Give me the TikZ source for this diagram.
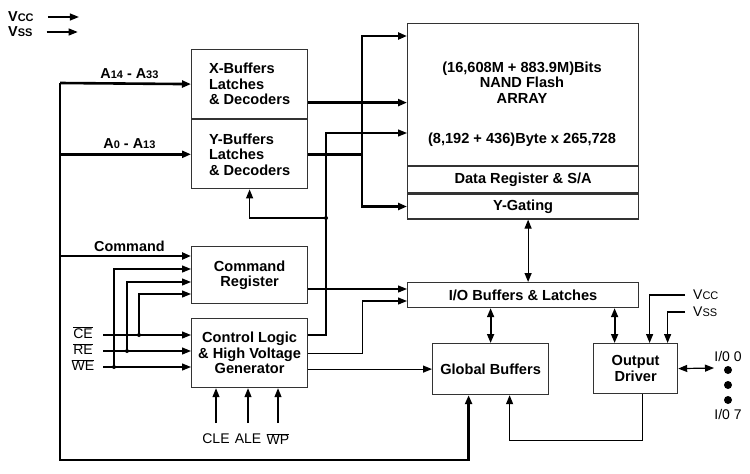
\documentclass[tikz,border=0pt]{standalone}
\usepackage{fontspec}
\setmainfont{Liberation Sans}
\usetikzlibrary{positioning,arrows.meta}

\newcommand{\sm}[1]{{\fontsize{11}{11}\selectfont #1}}
\newcommand{\ovl}[1]{$\overline{\hbox{#1}}$}

\begin{document}
\begin{tikzpicture}[x=1pt, y=-1pt,
  box/.style={draw=black!80, line width=1.2pt, inner sep=0pt, align=center, anchor=north west,
    font=\fontsize{14.6}{15.5}\selectfont\bfseries},
  lbl/.style={font=\fontsize{14}{15}\selectfont, inner sep=0pt},
  blbl/.style={lbl, font=\fontsize{14.4}{15}\selectfont\bfseries},
  bus/.style={line width=2.6pt},
  wire/.style={line width=1.2pt},
  arrow/.style={-{Triangle[length=9pt,width=7pt]}},
  both/.style={{Triangle[length=9pt,width=7pt]}-{Triangle[length=9pt,width=7pt]}},
  dot/.style={circle, fill, inner sep=0pt, minimum size=4pt}]
\useasboundingbox (0,0) rectangle (750,474);

% supply pins, top left
\node[blbl, anchor=west] (vcc) at (8,17) {V\sm{CC}};
\node[blbl, anchor=west] (vss) at (8,32) {V\sm{SS}};
\draw[wire,arrow] ([xshift=14pt]vcc.east) -- ++(31,0);
\draw[wire,arrow] ([xshift=14pt]vss.east) -- ++(31,0);

% blocks
\node[box, minimum width=116pt, minimum height=69pt, align=left] (xbuf) at (191,49) {X-Buffers\\Latches\\\& Decoders};
\node[box, minimum width=116pt, minimum height=69pt, align=left, below=0pt of xbuf] (ybuf) {Y-Buffers\\Latches\\\& Decoders};
\node[box, minimum width=231pt, minimum height=142pt] (arr) at (407,23) {};
\node[box, minimum width=231pt, minimum height=26pt, below=0pt of arr] (datareg) {Data Register \& S/A};
\node[box, minimum width=231pt, minimum height=25pt, below=0pt of datareg] (ygate) {Y-Gating};
\node[box, draw=none, anchor=center] (arrtxt) at (522,104) {(16,608M + 883.9M)Bits\\NAND Flash\\ARRAY\\[25pt](8,192 + 436)Byte x 265,728};
\node[box, minimum width=231pt, minimum height=25pt] (iobuf) at (407,282) {I/O Buffers \& Latches};
\node[box, minimum width=116pt, minimum height=57pt] (cmdreg) at (191,246) {Command\\Register};
\node[box, minimum width=116pt, minimum height=69pt] (ctrl) at (191,318) {Control Logic\\\& High Voltage\\Generator};
\node[box, minimum width=116pt, minimum height=51pt] (glob) at (432,343) {Global Buffers};
\node[box, minimum width=84pt, minimum height=50pt] (outdrv) at (593,343) {Output\\Driver};

% address / command bus
\coordinate (busA) at (60,83);
\coordinate (busC) at (60,256);
\coordinate (busD) at (60,460);
\draw[bus,arrow] (busA) -- (xbuf.west) node[blbl, pos=0.53, above=4pt] {A\sm{14} - A\sm{33}};
\draw[bus,arrow] (busA |- ybuf.west) -- (ybuf.west) node[blbl, pos=0.53, above=4pt] {A\sm{0} - A\sm{13}};
\draw[bus,arrow] (busC) -- ([yshift=-10pt]cmdreg.north west) node[blbl, pos=0.53, above=3pt] {Command};
\draw[bus,arrow] (busA) -- (busD) -| ([xshift=-22pt]glob.south);

% decoders to array
\coordinate (xo) at ([yshift=-18.5pt]xbuf.east);
\coordinate (vtop) at (362,36);
\draw[bus,arrow] (xo) -- (xo -| arr.west);
\draw[bus] (ybuf.east) -- (ybuf.east -| vtop);
\draw[bus,arrow] (ybuf.east -| vtop) |- (vtop -| arr.west);
\draw[bus,arrow] (ybuf.east -| vtop) |- (ygate.west);

% control pins
\coordinate (ce) at (103,335);
\coordinate (re) at (103,351);
\coordinate (we) at (103,367);
\node[lbl] (celbl) at (83,333) {\ovl{CE}};
\node[lbl] (relbl) at (83,349) {\ovl{RE}};
\node[lbl] (welbl) at (83,365) {\ovl{WE}};
\draw[wire,arrow] (ce) -- (ce -| ctrl.west);
\draw[wire,arrow] (re) -- (re -| ctrl.west);
\draw[wire,arrow] (we) -- (we -| ctrl.west);
\coordinate (jce) at (139,335);
\coordinate (jre) at (127,351);
\coordinate (jwe) at (114,367);
\draw[wire,arrow] (jce) |- ([yshift=-48pt]cmdreg.north west);
\draw[wire,arrow] (jre) |- ([yshift=-36pt]cmdreg.north west);
\draw[wire,arrow] (jwe) |- ([yshift=-23pt]cmdreg.north west);
\foreach \j in {jce,jre,jwe} \node[dot] at (\j) {};

\foreach \x/\t in {216/CLE, 248/ALE, 278/{\ovl{WP}}} {
  \node[lbl] (p\x) at (\x,439) {\t};
  \draw[wire,arrow] (\x,423) -- (p\x |- ctrl.south);
}

% control logic outputs
\coordinate (c1) at ([yshift=-17pt]ctrl.north east);
\coordinate (jy) at (326,218);
\draw[wire] (c1) -| (jy);
\draw[wire,arrow] (jy) |- ([yshift=-110pt]arr.north west);
\draw[wire,arrow] (jy) -| (ybuf.south);
\node[dot] at (jy) {};
\draw[wire,arrow] (ctrl.east) -- ++(54,0) |- ([yshift=-19pt]iobuf.north west);
\draw[wire,arrow] (glob.west -| ctrl.east) -- (glob.west);
\coordinate (co) at ([yshift=-43pt]cmdreg.north east);
\draw[wire,arrow] (co) -- (co -| iobuf.west);

% data path
\draw[wire,both] ([xshift=5pt]ygate.south) -- ([xshift=5pt]iobuf.north);
\draw[line width=1.8pt,both] (glob.north |- iobuf.south) -- (glob.north);
\coordinate (od1) at ([xshift=-21pt]outdrv.north);
\draw[line width=1.8pt,both] (od1 |- iobuf.south) -- (od1);
\draw[wire,arrow] ([xshift=7pt]outdrv.south) -- ++(0,46) -| ([xshift=19pt]glob.south);

% output supply and pins
\node[lbl, anchor=west] (vccr) at (693,295) {V\sm{CC}};
\node[lbl, anchor=west] (vssr) at (693,312) {V\sm{SS}};
\draw[wire,arrow] ([xshift=-8pt]vccr.west) -| ([xshift=14pt]outdrv.north);
\draw[wire,arrow] ([xshift=-8pt]vssr.west) -| ([xshift=32pt]outdrv.north);
\coordinate (iopin) at (714,368);
\draw[wire,both] (outdrv.east) -- (iopin);
\node[lbl] (io0) at (728,356) {I/0 0};
\node[lbl] (io7) at (728,414) {I/0 7};
\foreach \y in {370,385,400} \fill (728,\y) circle (4pt);
\end{tikzpicture}
\end{document}
